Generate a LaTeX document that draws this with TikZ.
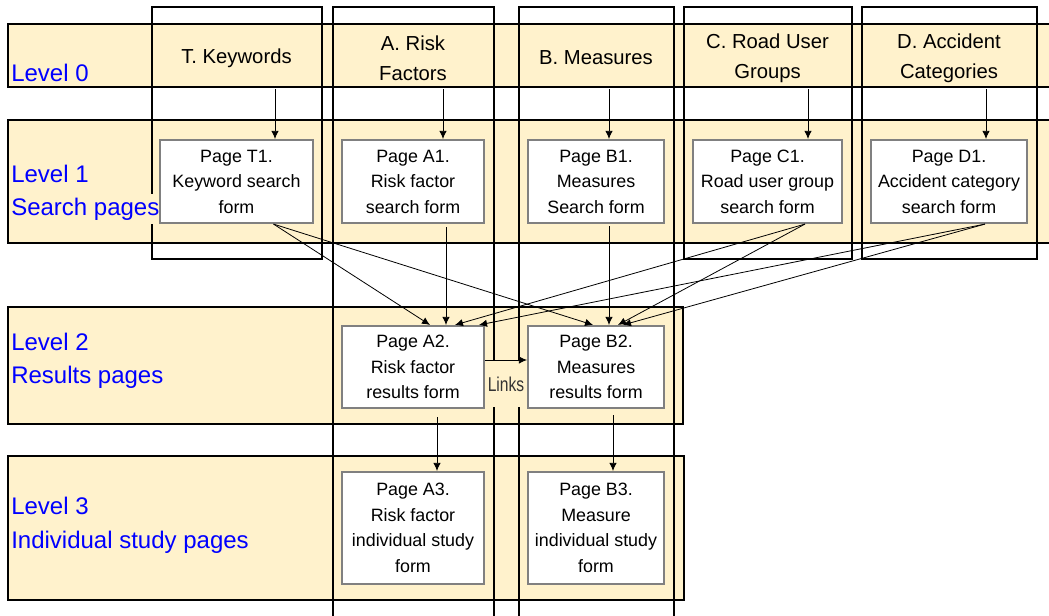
\documentclass[tikz,border=0pt]{standalone}
\usepackage{fontspec}
\setmainfont{Liberation Sans}
\newfontfamily\narrowfont[FakeStretch=0.78]{Liberation Sans}
\usetikzlibrary{arrows.meta,calc}
\definecolor{cream}{RGB}{255,242,204}
\definecolor{levelblue}{RGB}{0,0,255}

\begin{document}
\begin{tikzpicture}[x=0.75pt, y=-0.75pt, >={Latex[length=6pt,width=5.5pt]},
  band/.style = {draw=black, line width=1.5pt, fill=cream},
  column/.style = {draw=black, line width=1.5pt},
  page/.style = {draw=black!50, line width=1.6pt, fill=white, align=center, inner sep=2pt,
    minimum height=62.25pt, font=\fontsize{13.4}{19.1}\selectfont},
  header/.style = {align=center, inner sep=0pt, minimum height=43.5pt,
    font=\fontsize{15.2}{22.5}\selectfont},
  level/.style = {anchor=base west, inner xsep=0pt, inner ysep=3pt, fill=cream,
    text=levelblue, font=\fontsize{18}{26}\selectfont},
  arr/.style = {->, line width=0.6pt}]
\useasboundingbox (0,0) rectangle (1049,615);
\draw[band] (8,24) rectangle (1060,87);
\draw[band] (8,120) rectangle (1060,243);
\draw[band] (8,307) rectangle (683,424);
\draw[band] (8,456) rectangle (684,600);
\draw[column] (152,7) rectangle (322,259);
\draw[column] (333,7) rectangle (494,630);
\draw[column] (519,7) rectangle (674,630);
\draw[column] (684,7) rectangle (852,259);
\draw[column] (862,7) rectangle (1037,259);
\node[level] (L0) at (11,81) {Level 0};
\node[level] (L1) at (11,182) {Level 1};
\node[level] (L1s) at (11,215) {Search pages};
\node[level] (L2) at (11,350) {Level 2};
\node[level] (L2s) at (11,383) {Results pages};
\node[level] (L3) at (11,514) {Level 3};
\node[level] (L3s) at (11,548) {Individual study pages};
\node[header] (T0) at (236.5,58) {T. Keywords};
\node[header] (A0) at (413,58) {A. Risk\\Factors};
\node[header] (B0) at (596,58) {B. Measures};
\node[header] (C0) at (767.5,58) {C. Road User\\Groups};
\node[header] (D0) at (949,58) {D. Accident\\Categories};
\node[page, minimum width=114.75pt] (T1) at (236.5,181.5) {Page T1.\\Keyword search\\form};
\node[page, minimum width=106.5pt] (A1) at (413,181.5) {Page A1.\\Risk factor\\search form};
\node[page, minimum width=102pt] (B1) at (596,181.5) {Page B1.\\Measures\\Search form};
\node[page, minimum width=111.75pt] (C1) at (767.5,181.5) {Page C1.\\Road user group\\search form};
\node[page, minimum width=117pt] (D1) at (949,181.5) {Page D1.\\Accident category\\search form};
\node[page, minimum width=106.5pt, minimum height=61.5pt] (A2) at (413,367) {Page A2.\\Risk factor\\results form};
\node[page, minimum width=102pt, minimum height=61.5pt] (B2) at (596,367) {Page B2.\\Measures\\results form};
\node[page, minimum width=106.5pt, minimum height=84pt] (A3) at (413,528) {Page A3.\\Risk factor\\individual study\\form};
\node[page, minimum width=102pt, minimum height=84pt] (B3) at (596,528) {Page B3.\\Measure\\individual study\\form};
\draw[arr] ($(T0.south)+(38.5,2)$) -- ($(T1.north)+(38.5,0)$);
\draw[arr] ($(A0.south)+(30,2)$) -- ($(A1.north)+(30,0)$);
\draw[arr] ($(B0.south)+(13,2)$) -- ($(B1.north)+(13,0)$);
\draw[arr] ($(C0.south)+(40.5,2)$) -- ($(C1.north)+(40.5,0)$);
\draw[arr] ($(D0.south)+(37,2)$) -- ($(D1.north)+(37,0)$);
\draw[arr] ($(T1.south)+(37,0)$) -- ($(A2.north)+(17,0)$);
\draw[arr] ($(T1.south)+(37,0)$) -- ($(B2.north)+(-3,0)$);
\draw[arr] ($(A1.south)+(33,3)$) -- ($(A2.north)+(33,0)$);
\draw[arr] ($(B1.south)+(13,2)$) -- ($(B2.north)+(13,0)$);
\draw[arr] ($(C1.south)+(37.5,0)$) -- ($(A2.north)+(42,0)$);
\draw[arr] ($(C1.south)+(37.5,0)$) -- ($(B2.north)+(22,0)$);
\draw[arr] ($(D1.south)+(36,0)$) -- ($(A2.north)+(66,0)$);
\draw[arr] ($(D1.south)+(36,0)$) -- ($(B2.north)+(27,0)$);
\draw[arr] ($(A2.south)+(24,8)$) -- ($(A3.north)+(24,0)$);
\draw[arr] ($(B2.south)+(17,6)$) -- ($(B3.north)+(17,0)$);
\node[fill=cream, inner sep=0pt, minimum width=27pt, minimum height=34.5pt, text=black!80,
  font=\narrowfont\fontsize{15}{18}\selectfont] (lk) at (506,384) {Links};
\draw[arr] ($(A2.east)+(0,-7)$) -- ($(B2.west)+(0,-7)$);
\end{tikzpicture}
\end{document}
